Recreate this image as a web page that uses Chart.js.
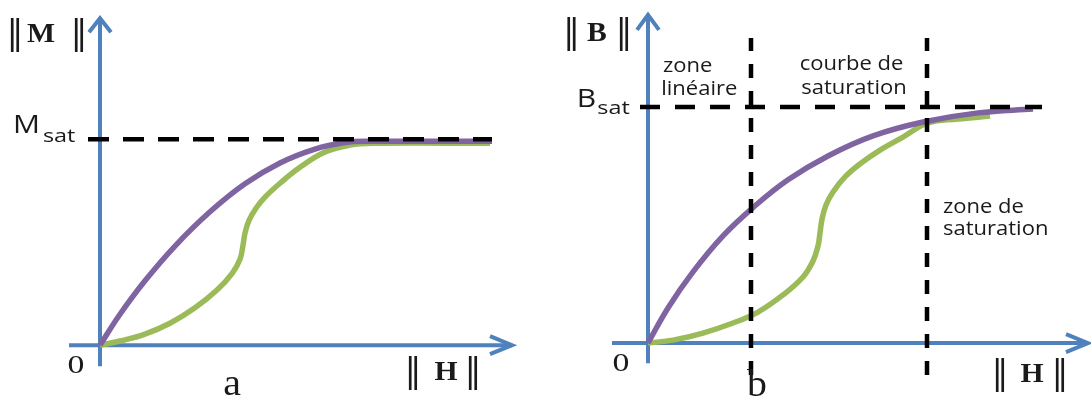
<!DOCTYPE html>
<html>
<head>
<meta charset="utf-8">
<script src="https://cdn.jsdelivr.net/npm/chart.js@4.4.1/dist/chart.umd.min.js"></script>
<style>
  html, body { margin: 0; padding: 0; background: #fff; }
  #wrap { position: relative; width: 1091px; height: 396px; overflow: hidden; }
  .panel { position: absolute; top: 0; height: 396px; }
  #panelA { left: 0; width: 545px; }
  #panelB { left: 545px; width: 546px; }
</style>
</head>
<body>
<div id="wrap">
  <div class="panel" id="panelA"><canvas id="chartA"></canvas></div>
  <div class="panel" id="panelB"><canvas id="chartB"></canvas></div>
</div>
<script>
// ---- panel a : M(H) ----
const hPurpleA = [0, 0.5, 1.125, 1.875, 2.75, 3.625, 4.5, 5.375, 6.125, 6.675, 9.8];
const mPurpleA = [0, 1.2, 2.5, 3.85, 5.18, 6.27, 7.08, 7.62, 7.87, 7.92, 7.92];
const hGreenA = [0, 0.5, 1.125, 1.75, 2.375, 2.925, 3.3, 3.5, 3.575, 3.625, 3.725, 3.9, 4.125, 4.5, 5.0, 5.625, 6.25, 6.825, 9.75];
const mGreenA = [0, 0.16, 0.43, 0.85, 1.45, 2.14, 2.78, 3.34, 3.88, 4.35, 4.85, 5.32, 5.75, 6.29, 6.91, 7.5, 7.77, 7.84, 7.84];
const mSat = 8;
const mSatSpan = [-0.3, 9.8];

// ---- panel b : B(H) ----
const hPurpleB = [0, 0.5, 1.125, 1.875, 2.625, 3.5, 4.5, 5.625, 6.875, 8.25, 9.625];
const bPurpleB = [0, 1.19, 2.41, 3.63, 4.59, 5.53, 6.34, 7.02, 7.49, 7.8, 7.93];
const hGreenB = [0, 0.625, 1.375, 2.125, 2.75, 3.375, 3.875, 4.125, 4.25, 4.3, 4.35, 4.45, 4.625, 4.925, 5.3, 5.8, 6.375, 7.0, 7.75, 8.55];
const bGreenB = [0, 0.1, 0.34, 0.68, 1.05, 1.63, 2.24, 2.78, 3.29, 3.73, 4.2, 4.68, 5.12, 5.63, 6.07, 6.54, 6.98, 7.46, 7.59, 7.69];
const bSat = 8;
const bSatSpan = [-0.2, 9.85];
const zoneLimits = [2.575, 6.975];
const zoneSpan = [-1.08, 10.34];

const PURPLE = '#8064a2';
const GREEN = '#9bbb59';
const AXIS = '#4f81bd';
const SANS = '"Open Sans", sans-serif';
const SERIF = '"Liberation Serif", serif';

function pts(xs, ys) {
    return xs.map((v, i) => ({ x: v, y: ys[i] }));
}

// axes with arrows, then text labels
const decor = {
    id: 'decor',
    beforeDatasetsDraw(chart, args, opts) {
        const { ctx, scales: { x, y } } = chart;
        const a = opts.axes;
        const x0 = x.getPixelForValue(0), y0 = y.getPixelForValue(0);
        const xs = x.getPixelForValue(a.h[0]), xe = x.getPixelForValue(a.h[1]);
        const ys = y.getPixelForValue(a.v[0]), ye = y.getPixelForValue(a.v[1]);
        ctx.save();
        ctx.strokeStyle = AXIS;
        ctx.lineWidth = 4;
        ctx.lineJoin = 'miter';
        ctx.beginPath();
        ctx.moveTo(xs, y0); ctx.lineTo(xe, y0);
        ctx.moveTo(x0, ys); ctx.lineTo(x0, ye);
        ctx.stroke();
        // arrow heads
        ctx.beginPath();
        ctx.moveTo(xe - a.xHead[0], y0 - a.xHead[1]);
        ctx.lineTo(xe, y0);
        ctx.lineTo(xe - a.xHead[0], y0 + a.xHead[1]);
        ctx.moveTo(x0 - a.yHead[1], ye + a.yHead[0]);
        ctx.lineTo(x0, ye);
        ctx.lineTo(x0 + a.yHead[1], ye + a.yHead[0]);
        ctx.stroke();
        ctx.restore();
    },
    afterDatasetsDraw(chart, args, opts) {
        const { ctx, scales: { x, y } } = chart;
        opts.labels.forEach(l => {
            ctx.save();
            ctx.translate(x.getPixelForValue(l.h), y.getPixelForValue(l.v));
            ctx.scale(l.sx || 1, 1);
            ctx.font = l.font;
            ctx.fillStyle = l.color || '#1a1a1a';
            ctx.textAlign = l.align || 'center';
            ctx.textBaseline = l.base || 'alphabetic';
            ctx.fillText(l.text, 0, 0);
            ctx.restore();
        });
    }
};

function curve(data, color, order) {
    return {
        data: data, borderColor: color, borderWidth: 5.5, pointRadius: 0,
        tension: 0.4, fill: false, order: order, clip: false
    };
}

function dashed(data, dash) {
    return {
        data: data, borderColor: '#000', borderWidth: 4.5, pointRadius: 0,
        borderDash: dash, tension: 0, fill: false, order: 0, clip: false
    };
}

function makeOptions(xr, yr, padding, decorOpts) {
    return {
        responsive: true,
        maintainAspectRatio: false,
        animation: false,
        events: [],
        layout: { padding: padding },
        scales: {
            x: { type: 'linear', min: xr[0], max: xr[1], display: false },
            y: { type: 'linear', min: yr[0], max: yr[1], display: false }
        },
        plugins: {
            legend: { display: false },
            tooltip: { enabled: false },
            decor: decorOpts
        }
    };
}

const barFont = '34px "DejaVu Serif", serif';
const boldFont = 'bold 27px ' + SERIF;
const noteFont = '20px ' + SANS;

new Chart(document.getElementById('chartA'), {
    type: 'line',
    data: {
        datasets: [
            dashed([{ x: mSatSpan[0], y: mSat }, { x: mSatSpan[1], y: mSat }], [21, 14]),
            curve(pts(hPurpleA, mPurpleA), PURPLE, 1),
            curve(pts(hGreenA, mGreenA), GREEN, 2)
        ]
    },
    options: makeOptions([-0.8, 10.35], [-0.85, 12.75], { left: 68, right: 31, top: 17, bottom: 29 }, {
        axes: { h: [-0.775, 10.3], v: [-0.82, 12.7], xHead: [22, 9], yHead: [14, 11] },
        labels: [
            { text: '‖', h: -2.125, v: 12.04, font: barFont, base: 'middle' },
            { text: 'M', h: -1.475, v: 12.04, font: boldFont, base: 'middle', sx: 1.1 },
            { text: '‖', h: -0.525, v: 12.04, font: barFont, base: 'middle' },
            { text: 'M', h: -1.84, v: 8.23, font: '25px ' + SANS, sx: 1.2 },
            { text: 'sat', h: -1.02, v: 7.9, font: '18px ' + SANS, sx: 1.3 },
            { text: '0', h: -0.6, v: -0.82, font: '26px ' + SERIF, base: 'middle', sx: 1.3 },
            { text: '‖', h: 7.825, v: -1.09, font: barFont, base: 'middle' },
            { text: 'H', h: 8.65, v: -1.09, font: boldFont, base: 'middle', sx: 1.1 },
            { text: '‖', h: 9.325, v: -1.09, font: barFont, base: 'middle' },
            { text: 'a', h: 3.3, v: -1.95, font: '38px ' + SERIF, sx: 1.05 }
        ]
    }),
    plugins: [decor]
});

const zoneLines = zoneLimits.map(z => dashed([{ x: z, y: zoneSpan[0] }, { x: z, y: zoneSpan[1] }], [14, 13]));

new Chart(document.getElementById('chartB'), {
    type: 'line',
    data: {
        datasets: [
            dashed([{ x: bSatSpan[0], y: bSat }, { x: bSatSpan[1], y: bSat }], [20, 15]),
            ...zoneLines,
            curve(pts(hPurpleB, bPurpleB), PURPLE, 1),
            curve(pts(hGreenB, bGreenB), GREEN, 2)
        ]
    },
    options: makeOptions([-0.95, 11.05], [-1.15, 11.15], { left: 65, right: 1, top: 14, bottom: 19 }, {
        axes: { h: [-0.9, 11.0], v: [-0.68, 11.12], xHead: [22, 9], yHead: [15, 11] },
        labels: [
            { text: '‖', h: -1.91, v: 10.47, font: barFont, base: 'middle' },
            { text: 'B', h: -1.275, v: 10.47, font: boldFont, base: 'middle', sx: 1.1 },
            { text: '‖', h: -0.6, v: 10.47, font: barFont, base: 'middle' },
            { text: 'B', h: -1.54, v: 8.0, font: '25px ' + SANS, sx: 1.2 },
            { text: 'sat', h: -0.86, v: 7.75, font: '18px ' + SANS, sx: 1.3 },
            { text: 'zone', h: 0.375, v: 9.19, font: noteFont, align: 'left', sx: 1.1 },
            { text: 'linéaire', h: 0.33, v: 8.41, font: noteFont, align: 'left', sx: 1.1 },
            { text: 'courbe de', h: 5.09, v: 9.25, font: noteFont, sx: 1.1 },
            { text: 'saturation', h: 5.15, v: 8.44, font: noteFont, sx: 1.1 },
            { text: 'zone de', h: 7.375, v: 4.41, font: noteFont, align: 'left', sx: 1.1 },
            { text: 'saturation', h: 7.375, v: 3.66, font: noteFont, align: 'left', sx: 1.1 },
            { text: '0', h: -0.675, v: -0.71, font: '26px ' + SERIF, base: 'middle', sx: 1.3 },
            { text: '‖', h: 8.8, v: -1.08, font: barFont, base: 'middle' },
            { text: 'H', h: 9.6, v: -1.08, font: boldFont, base: 'middle', sx: 1.1 },
            { text: '‖', h: 10.3, v: -1.08, font: barFont, base: 'middle' },
            { text: 'b', h: 2.725, v: -1.78, font: '38px ' + SERIF, sx: 1.05 }
        ]
    }),
    plugins: [decor]
});
</script>
</body>
</html>
